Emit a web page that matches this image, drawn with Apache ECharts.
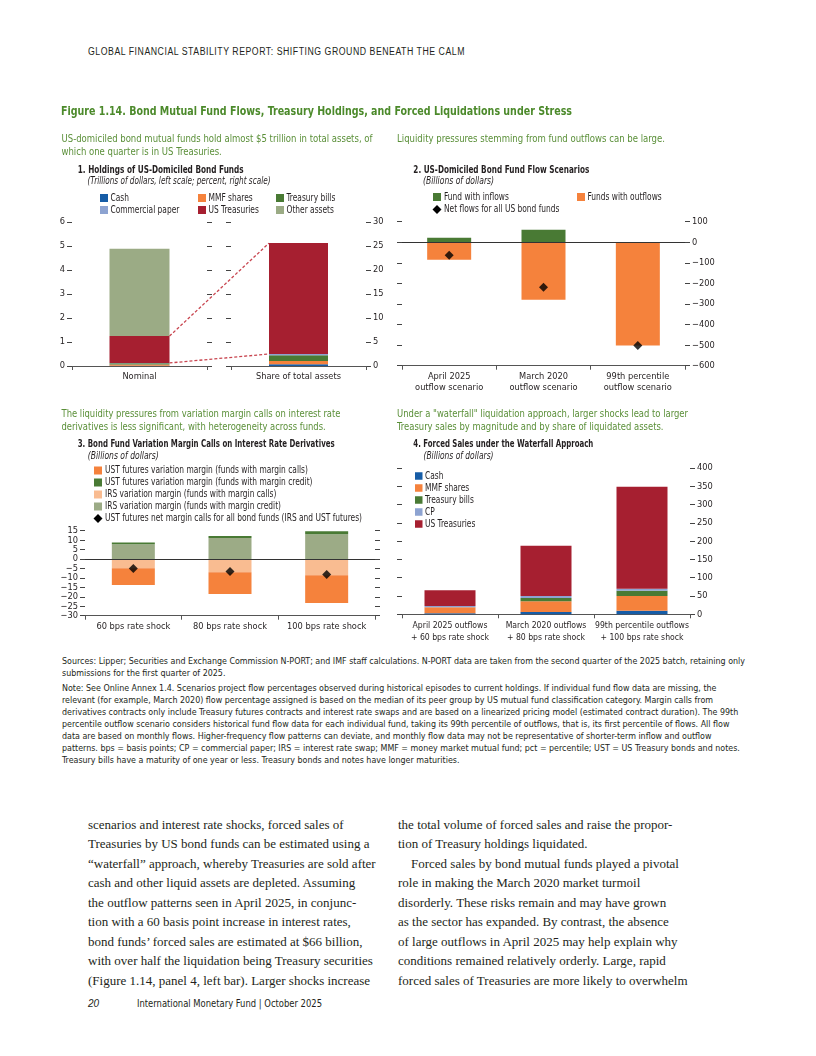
<!DOCTYPE html>
<html><head><meta charset="utf-8">
<script src="https://cdn.jsdelivr.net/npm/echarts@6/dist/echarts.min.js"></script>
<style>
body{margin:0;background:#fff;}
#page{position:relative;width:816px;height:1056px;overflow:hidden;background:#fff;}
#chart{position:absolute;left:0;top:0;width:816px;height:1056px;}
.t{position:absolute;white-space:nowrap;color:#231f20;transform-origin:0 50%;}
.hdr{font-family:'Liberation Sans Narrow','Arial Narrow',sans-serif;font-size:10px;letter-spacing:0.6px;}
.note{font-family:'Liberation Sans Narrow','Arial Narrow','DejaVu Sans Condensed',sans-serif;font-size:9px;}
.body{font-family:'Liberation Serif','DejaVu Serif',serif;font-size:13px;}
.foot{font-family:'Liberation Sans Narrow','Arial Narrow','DejaVu Sans Condensed',sans-serif;font-size:10px;}
</style></head>
<body><div id="page">
<div id="hdr" class="t hdr" style="left:88px;top:46px;">GLOBAL FINANCIAL STABILITY REPORT: SHIFTING GROUND BENEATH THE CALM</div>
<div id="notes"></div>
<div id="bodytext"></div>
<div class="t foot" style="left:88px;top:997.5px;font-style:italic;font-family:'Liberation Sans','Roboto',sans-serif;font-size:10px;">20</div>
<div id="foot" class="t foot" style="left:137px;top:997.5px;">International Monetary Fund | October 2025</div>
<div id="chart"></div>
</div>
<script>
// ---------------- DATA ----------------
// Panel 1
const p1Categories = ['Nominal', 'Share of total assets'];
const p1Names = ['Cash', 'MMF shares', 'Treasury bills', 'Commercial paper', 'US Treasuries', 'Other assets'];
const p1Nominal = [0.015, 0.045, 0.055, 0.012, 1.12, 3.64];      // trillions of dollars
const p1Share = [0.35, 0.7, 1.2, 0.25, 23.1, null];              // percent of total assets
const p1LeftTicks = [0, 1, 2, 3, 4, 5, 6];
const p1RightTicks = [0, 5, 10, 15, 20, 25, 30];
const p1LegendRows = [['Cash', 'MMF shares', 'Treasury bills'], ['Commercial paper', 'US Treasuries', 'Other assets']];
// Panel 2
const p2Categories = ['April 2025\noutflow scenario', 'March 2020\noutflow scenario', '99th percentile\noutflow scenario'];
const p2Names = ['Fund with inflows', 'Funds with outflows', 'Net flows for all US bond funds'];
const p2Inflows = [22, 61, 0];
const p2Outflows = [-85, -280, -502];
const p2Net = [-63, -219, -502];
const p2Ticks = [-600, -500, -400, -300, -200, -100, 0, 100];
// Panel 3
const p3Categories = ['60 bps rate shock', '80 bps rate shock', '100 bps rate shock'];
const p3Names = ['UST futures variation margin (funds with margin calls)', 'UST futures variation margin (funds with margin credit)',
  'IRS variation margin (funds with margin calls)', 'IRS variation margin (funds with margin credit)',
  'UST futures net margin calls for all bond funds (IRS and UST futures)'];
const p3UstCalls = [-8.9, -11.5, -14.7];
const p3UstCredit = [1.0, 1.1, 1.6];
const p3IrsCalls = [-4.9, -7.0, -8.6];
const p3IrsCredit = [7.8, 11.1, 13.1];
const p3Net = [-5.0, -6.6, -8.2];
const p3Ticks = [-30, -25, -20, -15, -10, -5, 0, 5, 10, 15];
// Panel 4
const p4Categories = ['April 2025 outflows\n+ 60 bps rate shock', 'March 2020 outflows\n+ 80 bps rate shock', '99th percentile outflows\n+ 100 bps rate shock'];
const p4Names = ['Cash', 'MMF shares', 'Treasury bills', 'CP', 'US Treasuries'];
const p4Cash = [3, 6, 10];
const p4MMF = [16, 30, 40];
const p4TBills = [0.5, 8.5, 14.5];
const p4CP = [3, 5.5, 5.5];
const p4UST = [43.5, 137.5, 278.5];
const p4Ticks = [0, 50, 100, 150, 200, 250, 300, 350, 400];

// ---------------- TEXT ----------------
const figTitle = 'Figure 1.14. Bond Mutual Fund Flows, Treasury Holdings, and Forced Liquidations under Stress';
const p1Lead = ['US-domiciled bond mutual funds hold almost $5 trillion in total assets, of', 'which one quarter is in US Treasuries.'];
const p2Lead = ['Liquidity pressures stemming from fund outflows can be large.'];
const p3Lead = ['The liquidity pressures from variation margin calls on interest rate', 'derivatives is less significant, with heterogeneity across funds.'];
const p4Lead = ['Under a "waterfall" liquidation approach, larger shocks lead to larger', 'Treasury sales by magnitude and by share of liquidated assets.'];
const panelTitles = ['1. Holdings of US-Domiciled Bond Funds', '2. US-Domiciled Bond Fund Flow Scenarios',
  '3. Bond Fund Variation Margin Calls on Interest Rate Derivatives', '4. Forced Sales under the Waterfall Approach'];
const panelUnits = ['(Trillions of dollars, left scale; percent, right scale)', '(Billions of dollars)', '(Billions of dollars)', '(Billions of dollars)'];
const noteLines = [
  'Sources: Lipper; Securities and Exchange Commission N-PORT; and IMF staff calculations. N-PORT data are taken from the second quarter of the 2025 batch, retaining only',
  'submissions for the first quarter of 2025.',
  'Note: See Online Annex 1.4. Scenarios project flow percentages observed during historical episodes to current holdings. If individual fund flow data are missing, the',
  'relevant (for example, March 2020) flow percentage assigned is based on the median of its peer group by US mutual fund classification category. Margin calls from',
  'derivatives contracts only include Treasury futures contracts and interest rate swaps and are based on a linearized pricing model (estimated contract duration). The 99th',
  'percentile outflow scenario considers historical fund flow data for each individual fund, taking its 99th percentile of outflows, that is, its first percentile of flows. All flow',
  'data are based on monthly flows. Higher-frequency flow patterns can deviate, and monthly flow data may not be representative of shorter-term inflow and outflow',
  'patterns. bps = basis points; CP = commercial paper; IRS = interest rate swap; MMF = money market mutual fund; pct = percentile; UST = US Treasury bonds and notes.',
  'Treasury bills have a maturity of one year or less. Treasury bonds and notes have longer maturities.'
];
const bodyLeft = [
  'scenarios and interest rate shocks, forced sales of',
  'Treasuries by US bond funds can be estimated using a',
  '\u201cwaterfall\u201d approach, whereby Treasuries are sold after',
  'cash and other liquid assets are depleted. Assuming',
  'the outflow patterns seen in April 2025, in conjunc-',
  'tion with a 60 basis point increase in interest rates,',
  'bond funds\u2019 forced sales are estimated at $66 billion,',
  'with over half the liquidation being Treasury securities',
  '(Figure 1.14, panel 4, left bar). Larger shocks increase'
];
const bodyRight = [
  'the total volume of forced sales and raise the propor-',
  'tion of Treasury holdings liquidated.',
  '\u2003Forced sales by bond mutual funds played a pivotal',
  'role in making the March 2020 market turmoil',
  'disorderly. These risks remain and may have grown',
  'as the sector has expanded. By contrast, the absence',
  'of large outflows in April 2025 may help explain why',
  'conditions remained relatively orderly. Large, rapid',
  'forced sales of Treasuries are more likely to overwhelm'
];

// ---------------- HTML TEXT ----------------
function fitHtml(el, target) {
  const w = el.getBoundingClientRect().width;
  const k = target / w;
  el.style.transform = 'scaleX(' + k + ')';
  return k;
}
(function () {
  fitHtml(document.getElementById('hdr'), 377);
  fitHtml(document.getElementById('foot'), 185);
  const notes = document.getElementById('notes');
  const ys = [662, 674, 689, 701, 713, 725, 737, 749, 761];
  const els = noteLines.map((s, i) => {
    const d = document.createElement('div');
    d.className = 't note';
    d.style.left = '62px';
    d.style.top = (ys[i] - 6) + 'px';
    d.textContent = s;
    notes.appendChild(d);
    return d;
  });
  const k = 683 / els[0].getBoundingClientRect().width;
  els.forEach(e => e.style.transform = 'scaleX(' + k + ')');
  const body = document.getElementById('bodytext');
  [[bodyLeft, 88], [bodyRight, 398]].forEach(([lines, x]) => {
    lines.forEach((s, i) => {
      const d = document.createElement('div');
      d.className = 't body';
      d.style.left = x + 'px';
      d.style.top = (816.5 + i * 19.5) + 'px';
      d.textContent = s;
      body.appendChild(d);
    });
  });
})();

// ---------------- CHART ----------------
const FN = "'Liberation Sans Narrow','Arial Narrow','DejaVu Sans Condensed',sans-serif";
const AX = 9.2;   // axis label size
const COL = {
  cash: '#165ca6', mmf: '#f5823c', tbill: '#497a34', cp: '#8da3d1', ust: '#a61f30', other: '#9bab85',
  irsCall: '#f9bc91', irsCredit: '#9cab86', ink: '#231f20', green: '#5a8f38', title: '#4c8a2b'
};
const p1Colors = [COL.cash, COL.mmf, COL.tbill, COL.cp, COL.ust, COL.other];
const p4Colors = [COL.cash, COL.mmf, COL.tbill, COL.cp, COL.ust];
const fmt = v => (v < 0 ? '\u2212' + Math.abs(v) : String(v));
const rng = t => ({ min: t[0], max: t[t.length - 1], interval: t[1] - t[0] });

const mctx = document.createElement('canvas').getContext('2d');
function measure(s, size, weight, style) {
  mctx.font = (style || 'normal') + ' ' + (weight || 'normal') + ' ' + size + 'px ' + FN;
  return mctx.measureText(s).width;
}

const chart = echarts.init(document.getElementById('chart'), null, { renderer: 'canvas' });

const grids = [
  { left: 72, top: 222, width: 135, height: 144 },     // 0 p1 nominal
  { left: 231, top: 222, width: 135, height: 144 },    // 1 p1 share
  { left: 402, top: 221.7, width: 283, height: 144 },  // 2 p2
  { left: 85, top: 530.7, width: 290, height: 85 },    // 3 p3
  { left: 402, top: 468, width: 288, height: 146.3 }   // 4 p4
].map(g => Object.assign({ containLabel: false, outerBoundsMode: 'none' }, g));

function xCat(gridIndex, data, lh, fs) {
  return {
    type: 'category', gridIndex, data,
    axisLine: { show: true, onZero: false, lineStyle: { color: '#555', width: 1 } },
    axisTick: { show: true, length: 4, interval: 0, lineStyle: { color: '#555' } },
    axisLabel: { interval: 0, fontFamily: FN, fontSize: fs || AX, color: COL.ink, margin: 5, lineHeight: lh || 12 },
    splitLine: { show: false }
  };
}
function yVal(gridIndex, ticks, position, showLabel) {
  return Object.assign({
    type: 'value', gridIndex, position,
    axisLine: { show: false },
    axisTick: { show: true, length: 5, lineStyle: { color: '#444' } },
    axisLabel: { show: showLabel, showMinLabel: true, showMaxLabel: true, hideOverlap: false,
      fontFamily: FN, fontSize: AX, color: COL.ink, margin: 7, formatter: fmt },
    splitLine: { show: false }
  }, rng(ticks));
}

const xAxis = [
  xCat(0, [p1Categories[0]]),
  xCat(1, [p1Categories[1]]),
  xCat(2, p2Categories, 11.5),
  xCat(3, p3Categories),
  xCat(4, p4Categories, 12.3, 8.6)
];
const yAxis = [
  yVal(0, p1LeftTicks, 'left', true),     // 0
  yVal(0, p1LeftTicks, 'right', false),   // 1
  yVal(1, p1RightTicks, 'left', false),   // 2
  yVal(1, p1RightTicks, 'right', true),   // 3
  yVal(2, p2Ticks, 'left', false),        // 4
  yVal(2, p2Ticks, 'right', true),        // 5
  yVal(3, p3Ticks, 'left', true),         // 6
  yVal(3, p3Ticks, 'right', false),       // 7
  yVal(4, p4Ticks, 'left', false),        // 8
  yVal(4, p4Ticks, 'right', true)         // 9
];

const zeroLine = { silent: true, symbol: 'none', label: { show: false }, data: [{ yAxis: 0 }],
  lineStyle: { color: '#333', type: 'solid', width: 1 } };
const bar = (name, xi, yi, stack, data, color, w, extra) => Object.assign({
  type: 'bar', name, xAxisIndex: xi, yAxisIndex: yi, stack, data, barWidth: w,
  itemStyle: { color }, silent: true
}, extra || {});
const diamonds = (name, xi, yi, data) => ({
  type: 'scatter', name, xAxisIndex: xi, yAxisIndex: yi, data, symbol: 'diamond', symbolSize: 9,
  itemStyle: { color: '#000' }, silent: true, z: 5
});

const series = [];
p1Names.forEach((n, i) => {
  series.push(bar(n, 0, 0, 'nom', [p1Nominal[i]], p1Colors[i], 60));
  if (p1Share[i] != null) series.push(bar(n, 1, 3, 'shr', [p1Share[i]], p1Colors[i], 59));
});
series.push(bar(p2Names[0], 2, 5, 'f', p2Inflows, COL.tbill, 44, { markLine: zeroLine }));
series.push(bar(p2Names[1], 2, 5, 'f', p2Outflows, COL.mmf, 44));
series.push(diamonds(p2Names[2], 2, 5, p2Net));
series.push(bar(p3Names[2], 3, 6, 'm', p3IrsCalls, COL.irsCall, 43, { markLine: zeroLine }));
series.push(bar(p3Names[3], 3, 6, 'm', p3IrsCredit, COL.irsCredit, 43));
series.push(bar(p3Names[0], 3, 6, 'm', p3UstCalls, COL.mmf, 43));
series.push(bar(p3Names[1], 3, 6, 'm', p3UstCredit, COL.tbill, 43));
series.push(diamonds(p3Names[4], 3, 6, p3Net));
[p4Cash, p4MMF, p4TBills, p4CP, p4UST].forEach((d, i) => series.push(bar(p4Names[i], 4, 9, 'w', d, p4Colors[i], 51)));

// ---------- graphic texts & legends ----------
const G = [];
function txt(s, x, y, o) {
  o = o || {};
  const size = o.size || 9.8, weight = o.weight || 'normal', fst = o.style || 'normal';
  G.push({ type: 'text', silent: true, x, y, scaleX: o.k || 1, style: {
    text: s, x: 0, y: 0, fill: o.fill || COL.ink,
    fontFamily: FN, fontSize: size, fontWeight: weight, fontStyle: fst,
    textAlign: 'left', textVerticalAlign: 'middle', align: 'left', verticalAlign: 'middle'
  } });
}
const kFit = (s, target, size, weight, style) => target / measure(s, size, weight, style);
function sq(x, y, color, s) {
  s = s || 8;
  G.push({ type: 'rect', silent: true, shape: { x, y: y - s / 2, width: s, height: s }, style: { fill: color } });
}
function dia(x, y) {
  G.push({ type: 'polygon', silent: true, shape: { points: [[x, y - 4.5], [x + 4.5, y], [x, y + 4.5], [x - 4.5, y]] }, style: { fill: '#000' } });
}
txt(figTitle, 61, 111.5, { size: 12.8, weight: 'bold', fill: COL.title, k: kFit(figTitle, 511, 12.8, 'bold') });
const LS = 11.2;
const kl1 = kFit(p1Lead[0], 311, LS), kl2 = kFit(p2Lead[0], 268, LS), kl3 = kFit(p3Lead[0], 279, LS), kl4 = kFit(p4Lead[0], 291, LS);
p1Lead.forEach((s, i) => txt(s, 61.5, 139.3 + i * 12.4, { size: LS, fill: COL.green, k: kl1 }));
p2Lead.forEach((s, i) => txt(s, 397, 139.5 + i * 12.4, { size: LS, fill: COL.green, k: kl2 }));
p3Lead.forEach((s, i) => txt(s, 61.5, 414.5 + i * 12.2, { size: LS, fill: COL.green, k: kl3 }));
p4Lead.forEach((s, i) => txt(s, 397, 414.5 + i * 12.2, { size: LS, fill: COL.green, k: kl4 }));
const titleW = [166, 176, 257, 180], unitW = [183, 71, 71, 70];
[[77.7, 170, 87.5, 181.5], [413.3, 170, 423, 181.5], [77.7, 444.3, 87.7, 456.2], [413.3, 444.3, 423.5, 456.2]].forEach((p, i) => {
  txt(panelTitles[i], p[0], p[1], { size: 10.4, weight: 'bold', k: kFit(panelTitles[i], titleW[i], 10.4, 'bold') });
  txt(panelUnits[i], p[2], p[3], { size: 9.8, style: 'italic', k: kFit(panelUnits[i], unitW[i], 9.8, 'normal', 'italic') });
});
const LG = 10.2;
const kLeg = kFit(p3Names[4], 257, LG);
// panel 1 legend
const p1LegX = [100, 198, 276];
p1LegendRows.forEach((row, r) => row.forEach((n, c) => {
  const y = 198 + r * 12;
  sq(p1LegX[c], y, p1Colors[p1Names.indexOf(n)]);
  txt(n, p1LegX[c] + 10.5, y, { size: LG, k: kLeg });
}));
// panel 2 legend
sq(433, 197, COL.tbill); txt(p2Names[0], 444, 197, { size: LG, k: kLeg });
sq(577, 197, COL.mmf); txt(p2Names[1], 587.5, 197, { size: LG, k: kLeg });
dia(437, 209.5); txt(p2Names[2], 444, 209.5, { size: LG, k: kLeg });
// panel 3 legend
const p3LegColors = [COL.mmf, COL.tbill, COL.irsCall, COL.irsCredit];
p3Names.forEach((n, i) => {
  const y = 470.5 + i * 12;
  if (i < 4) sq(94, y, p3LegColors[i]); else dia(98, y);
  txt(n, 105, y, { size: LG, k: kLeg });
});
// panel 4 legend
p4Names.forEach((n, i) => {
  const y = 476 + i * 12;
  sq(415, y, p4Colors[i], 7.5);
  txt(n, 425, y, { size: LG, k: kLeg });
});

chart.setOption({
  animation: false,
  backgroundColor: 'transparent',
  grid: grids, xAxis, yAxis, series,
  graphic: { elements: G }
});

// dashed connector lines in panel 1 (positions from the library's own scales)
(function () {
  const sum = (a, n) => a.slice(0, n).reduce((s, v) => s + (v || 0), 0);
  const a1 = chart.convertToPixel({ xAxisIndex: 0, yAxisIndex: 0 }, [p1Categories[0], sum(p1Nominal, 5)]);
  const a2 = chart.convertToPixel({ xAxisIndex: 0, yAxisIndex: 0 }, [p1Categories[0], sum(p1Nominal, 4)]);
  const b1 = chart.convertToPixel({ xAxisIndex: 1, yAxisIndex: 3 }, [p1Categories[1], sum(p1Share, 5)]);
  const b2 = chart.convertToPixel({ xAxisIndex: 1, yAxisIndex: 3 }, [p1Categories[1], sum(p1Share, 4)]);
  const ls = { stroke: '#c8454f', lineWidth: 1.3, lineDash: [3, 2] };
  G.push({ type: 'line', silent: true, z: 10, shape: { x1: a1[0] + 30, y1: a1[1], x2: b1[0] - 29.5, y2: b1[1] }, style: ls });
  G.push({ type: 'line', silent: true, z: 10, shape: { x1: a2[0] + 30, y1: a2[1], x2: b2[0] - 29.5, y2: b2[1] }, style: ls });
  chart.setOption({ graphic: { elements: G } }, { replaceMerge: ['graphic'] });
})();
</script>
</body></html>
